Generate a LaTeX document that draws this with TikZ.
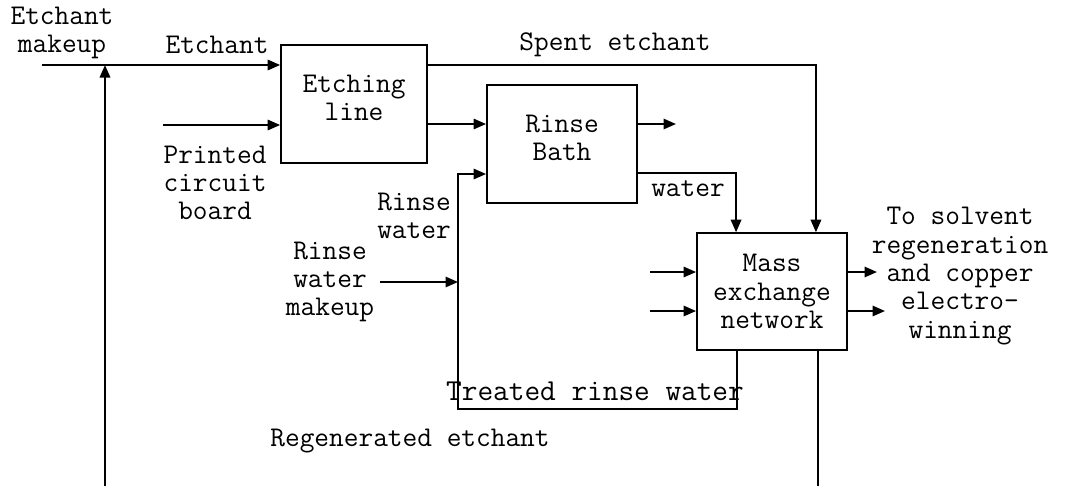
\documentclass[tikz,border=0pt]{standalone}
\usepackage{fontspec}
\usepackage{tikz}
\usetikzlibrary{arrows.meta,positioning,calc}

\tikzset{
  blk/.style={draw, line width=0.9pt, rectangle, align=center, inner sep=0pt},
  lbl/.style={align=center, inner sep=0pt},
  flow/.style={line width=0.9pt, -{Triangle[length=6pt,width=5pt]}},
  pipe/.style={line width=0.9pt}
}

\begin{document}
\begin{tikzpicture}[x=0.48pt, y=-0.48pt,
  every node/.style={font=\ttfamily\fontsize{13.7}{13.6}\selectfont}]
\useasboundingbox (0,0) rectangle (1067,485);

\node[blk, minimum width=70pt, minimum height=56.6pt] (etch) at (354,104) {Etching\\line\\[-7.5pt]};
\node[blk, minimum width=72pt, minimum height=56.6pt] (bath) at (562,144) {Rinse\\Bath\\[-7.5pt]};
\node[blk, minimum width=72pt, minimum height=56pt] (mex) at (772,291.5) {Mass\\exchange\\network};

\node[lbl] (lmakeup) at (62,33) {Etchant\\makeup};
\node[lbl] (letch) at (217,45) {Etchant};
\node[lbl] (lspent) at (615,45) {Spent etchant};
\node[lbl] (lpcb) at (215,183) {Printed\\circuit\\board};
\node[lbl] (lwater) at (688,189) {water};
\node[lbl] (lrinse) at (414,216) {Rinse\\water};
\node[lbl] (lrwm) at (330,282) {Rinse\\water\\makeup};
\node[lbl, font=\ttfamily\fontsize{14.6}{14}\selectfont] (ltreated) at (595,391) {Treated rinse water};
\node[lbl] (lout) at (960,276) {To solvent\\regeneration\\and copper\\electro-\\winning};
\node[lbl] (lregen) at (410,441) {Regenerated etchant};

\coordinate (mk) at (42,65);
\coordinate (jn) at (105,65);
\coordinate (pcb) at (163,125);
\coordinate (e2b) at (428,124);
\coordinate (bout) at (676,124);
\coordinate (bw) at (637,173);
\coordinate (rwin) at (458,174);
\coordinate (rwm) at (380,282);
\coordinate (in1) at (650,272);
\coordinate (in2) at (650,311);
\coordinate (out1) at (877,272);
\coordinate (out2) at (885,311);
\coordinate (tr) at ($(mex.south west)+(41,0)$);
\coordinate (rg) at ($(mex.south east)+(-30,0)$);

\draw[flow] (mk) -- (mk -| etch.west);
\draw[flow] (pcb) -- (pcb -| etch.west);
\draw[flow] (etch.east |- mk) -| ($(mex.north east)+(-32,0)$);
\draw[flow] (e2b) -- (e2b -| bath.west);
\draw[flow] (e2b -| bath.east) -- (bout);
\draw[flow] (bw) -| ($(mex.north west)+(40,0)$);
\draw[flow] (tr) -- ++(0,58) -| (rwin) -- (rwin -| bath.west);
\draw[flow] (rwm) -- (rwm -| rwin);
\draw[flow] (in1) -- (in1 -| mex.west);
\draw[flow] (in2) -- (in2 -| mex.west);
\draw[flow] (in1 -| mex.east) -- (out1);
\draw[flow] (in2 -| mex.east) -- (out2);
\draw[flow] (rg) -- ++(0,140) -| (jn);
\end{tikzpicture}
\end{document}
